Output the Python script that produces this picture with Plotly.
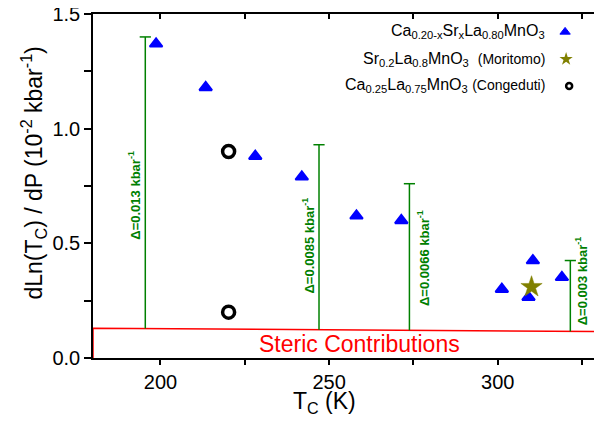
import numpy as np
import plotly.graph_objects as go

# ---------------- data ----------------
tri_x = [198.7, 213.4, 228.1, 241.9, 258.1, 271.4, 301.2, 309.1, 310.4, 319.0]
tri_y = [1.37, 1.18, 0.88, 0.79, 0.62, 0.60, 0.30, 0.265, 0.425, 0.352]

star_x = [310.0]
star_y = [0.31]

circ_x = [220.2, 220.2]
circ_y = [0.90, 0.20]

steric_x = [180, 330]
steric_y = [0.13, 0.115]

delta_x = [195.5, 247.0, 273.8, 321.5]
delta_top = [1.40, 0.93, 0.76, 0.425]
delta_labels = ["Δ=0.013 kbar<sup>-1</sup>", "Δ=0.0085 kbar<sup>-1</sup>",
                "Δ=0.0066 kbar<sup>-1</sup>", "Δ=0.003 kbar<sup>-1</sup>"]
delta_label_x = [192.3, 243.7, 277.9, 324.9]
delta_label_y = [0.71, 0.49, 0.437, 0.338]

x_ticks = [200, 225, 250, 275, 300, 325]
x_ticktext = ["200", "", "250", "", "300", ""]
y_ticks = [0, 0.25, 0.5, 0.75, 1.0, 1.25, 1.5]
y_ticktext = ["0.0", "", "0.5", "", "1.0", "", "1.5"]

legend_names = [
    "Ca<sub>0.20-x</sub>Sr<sub>x</sub>La<sub>0.80</sub>MnO<sub>3</sub>",
    "Sr<sub>0.2</sub>La<sub>0.8</sub>MnO<sub>3</sub> &nbsp;<span style='font-size:14px'>(Moritomo)</span>",
    "Ca<sub>0.25</sub>La<sub>0.75</sub>MnO<sub>3</sub> <span style='font-size:14px'>(Congeduti)</span>",
]

FONT = "Liberation Sans, Arial, sans-serif"
GREEN = "#008000"
RED = "#FF0000"
BLUE = "#0000FF"
OLIVE = "#808000"

xr = [180, 330]
yr = [0, 1.5]

fig = go.Figure()

# steric contribution region outline
fig.add_trace(go.Scatter(
    x=[steric_x[0], steric_x[0], steric_x[1], steric_x[1]],
    y=[0, steric_y[0], steric_y[1], 0],
    mode="lines", line=dict(color=RED, width=1.5), showlegend=False, hoverinfo="skip"))

# green delta bars
delta_bottom = list(np.interp(delta_x, steric_x, steric_y))
for xv, yb, yt in zip(delta_x, delta_bottom, delta_top):
    fig.add_trace(go.Scatter(x=[xv, xv], y=[yb, yt], mode="lines",
                             line=dict(color=GREEN, width=1.5), showlegend=False, hoverinfo="skip"))
fig.add_trace(go.Scatter(x=delta_x, y=delta_top, mode="markers",
                         marker=dict(symbol="line-ew", size=8, line=dict(color=GREEN, width=1.5)),
                         showlegend=False, hoverinfo="skip"))

# data points
fig.add_trace(go.Scatter(x=tri_x, y=tri_y, mode="markers",
                         marker=dict(symbol="triangle-up", size=11, color=BLUE,
                                     line=dict(color=BLUE, width=2)), showlegend=False))
fig.add_trace(go.Scatter(x=circ_x, y=circ_y, mode="markers",
                         marker=dict(symbol="circle-open", size=12, color="black",
                                     line=dict(color="black", width=3.5)), showlegend=False))
fig.add_trace(go.Scatter(x=star_x, y=star_y, mode="markers",
                         marker=dict(symbol="star", size=16, color=OLIVE,
                                     line=dict(color=OLIVE, width=0.5)), showlegend=False))

# invisible traces so the mirrored frame axes (top / right) get drawn
fig.add_trace(go.Scatter(x=[xr[0]], y=[yr[0]], xaxis="x2", yaxis="y", mode="markers",
                         marker=dict(opacity=0), showlegend=False, hoverinfo="skip"))
fig.add_trace(go.Scatter(x=[xr[0]], y=[yr[0]], xaxis="x", yaxis="y2", mode="markers",
                         marker=dict(opacity=0), showlegend=False, hoverinfo="skip"))

# legend (manual, symbols on the right)
leg_y = [0.948, 0.869, 0.791]
fig.add_trace(go.Scatter(x=[0.933], y=[leg_y[0]], mode="markers", xaxis="x3", yaxis="y3",
                         marker=dict(symbol="triangle-up", size=9, color=BLUE,
                                     line=dict(color=BLUE, width=1)), showlegend=False, hoverinfo="skip"))
fig.add_trace(go.Scatter(x=[0.935], y=[leg_y[1]], mode="markers", xaxis="x3", yaxis="y3",
                         marker=dict(symbol="star", size=10, color=OLIVE), showlegend=False, hoverinfo="skip"))
fig.add_trace(go.Scatter(x=[0.941], y=[leg_y[2]], mode="markers", xaxis="x3", yaxis="y3",
                         marker=dict(symbol="circle-open", size=6, color="black",
                                     line=dict(color="black", width=2.5)), showlegend=False, hoverinfo="skip"))

annotations = []
for name, yy in zip(legend_names, leg_y):
    annotations.append(dict(x=0.897, y=yy, xref="paper", yref="paper", text=name,
                            showarrow=False, xanchor="right", yanchor="middle",
                            font=dict(family=FONT, size=16, color="black")))

for txt, xx, yy in zip(delta_labels, delta_label_x, delta_label_y):
    annotations.append(dict(x=xx, y=yy, xref="x", yref="y", text="<b>" + txt + "</b>",
                            showarrow=False, textangle=-90, xanchor="center", yanchor="middle",
                            font=dict(family=FONT, size=13, color=GREEN)))

annotations.append(dict(x=258.9, y=0.062, xref="x", yref="y", text="Steric Contributions",
                        showarrow=False, xanchor="center", yanchor="middle",
                        font=dict(family=FONT, size=23, color=RED)))

# axis titles
annotations.append(dict(x=0.458, y=-0.13, xref="paper", yref="paper", text="T<sub>C</sub> (K)",
                        showarrow=False, xanchor="center", yanchor="middle",
                        font=dict(family=FONT, size=23, color="black")))
annotations.append(dict(x=-0.1186, y=0.539, xref="paper", yref="paper",
                        text="dLn(T<sub>C</sub>) / dP (10<sup>-2</sup> kbar<sup>-1</sup>)",
                        showarrow=False, textangle=-90, xanchor="center", yanchor="middle",
                        font=dict(family=FONT, size=23, color="black")))

# the page body adds an 8px offset; size/margins compensate so the plot area lands at 93..599 x 14..358
fig.update_layout(
    width=594, height=417,
    margin=dict(l=85, r=3, t=6, b=67, autoexpand=False),
    plot_bgcolor="white", paper_bgcolor="white",
    font=dict(family=FONT, color="black"),
    showlegend=False,
    annotations=annotations,
    xaxis=dict(range=xr, tickvals=x_ticks, ticktext=x_ticktext, ticks="outside", ticklen=5,
               tickwidth=1.5, tickcolor="black", showline=True, linecolor="black", linewidth=1.5,
               showgrid=False, zeroline=False, tickfont=dict(size=20, family=FONT),
               automargin=False, ticklabeloverflow="allow"),
    yaxis=dict(range=yr, tickvals=y_ticks, ticktext=y_ticktext, ticks="outside", ticklen=7,
               tickwidth=1.5, tickcolor="black", showline=True, linecolor="black", linewidth=1.5,
               showgrid=False, zeroline=False, tickfont=dict(size=20, family=FONT),
               automargin=False, ticklabeloverflow="allow"),
    xaxis2=dict(range=xr, overlaying="x", side="top", anchor="y", tickvals=x_ticks, ticks="inside",
                ticklen=5, tickwidth=1.5, tickcolor="black", showline=True, linecolor="black",
                linewidth=1.5, showticklabels=False, showgrid=False, zeroline=False, automargin=False),
    yaxis2=dict(range=yr, overlaying="y", side="right", anchor="x", tickvals=y_ticks, ticks="inside",
                ticklen=5, tickwidth=1.5, tickcolor="black", showline=True, linecolor="black",
                linewidth=1.5, showticklabels=False, showgrid=False, zeroline=False, automargin=False),
    xaxis3=dict(range=[0, 1], overlaying="x", visible=False, automargin=False),
    yaxis3=dict(range=[0, 1], overlaying="y", visible=False, automargin=False),
)

fig.write_html("out.html")
